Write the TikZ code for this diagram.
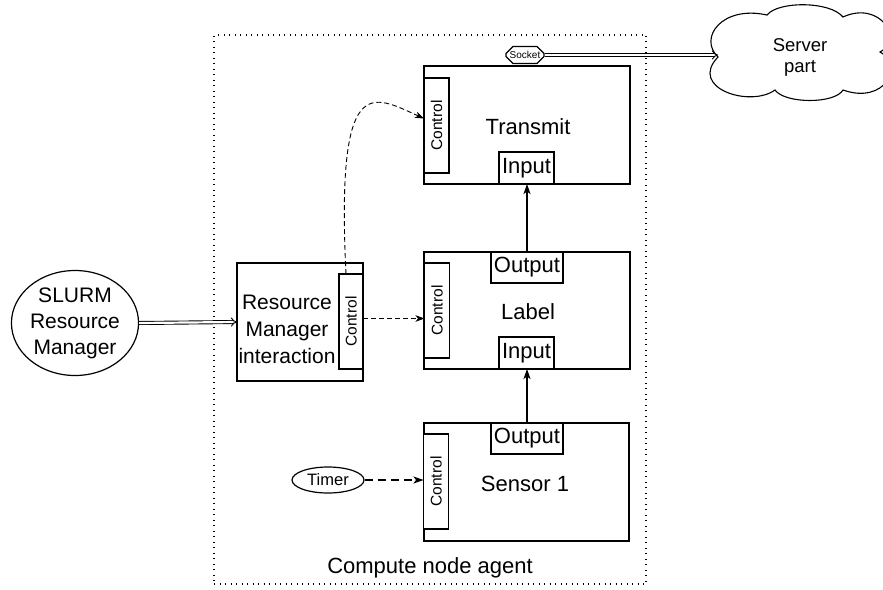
\documentclass[tikz,border=0pt]{standalone}
\usepackage{fontspec}
\setmainfont{Liberation Sans}
\usetikzlibrary{arrows.meta,shapes.geometric,shapes.misc}
\newcommand\fsz[2]{\fontsize{#1}{#2}\selectfont}
\begin{document}
\begin{tikzpicture}[x=1pt,y=-1pt,
  box/.style={draw, line width=1.6pt, inner sep=0pt, outer sep=0pt, fill=white},
  ctrl/.style={draw, line width=1.4pt, fill=white, inner sep=0pt, outer sep=0pt,
    minimum width=25pt, minimum height=95pt, font=\fsz{15.5}{18}},
  port/.style={draw, line width=1.4pt, fill=white, inner sep=0pt, outer sep=0pt,
    minimum height=31pt, font=\fsz{22}{26}},
  title/.style={font=\fsz{22}{26}, inner sep=0pt},
  conn/.style={line width=1.3pt, -{Stealth[length=10pt,width=7pt,inset=2.5pt]}},
  dconn/.style={line width=0.9pt, dash pattern=on 5pt off 3pt,
    -{Stealth[length=9pt,width=6.5pt,inset=2.5pt]}},
  tconn/.style={line width=1.4pt, dash pattern=on 8pt off 5pt,
    -{Stealth[length=10pt,width=7pt,inset=2.5pt]}},
  dbl/.style={double, double distance=2.2pt, line width=0.9pt,
    -{Implies[length=8pt,width=13pt]}},
]
\useasboundingbox (0,0) rectangle (883,589);
\clip (0,0) rectangle (883,589);
\fill[white] (0,0) rectangle (883,589);

% agent boundary
\node[draw, line width=1.2pt, dash pattern=on 1pt off 4.5pt, inner sep=0pt,
  minimum width=432pt, minimum height=549pt] (agent) at (430,309.5) {};
\node[title] (agentlbl) at (430,568) {Compute node agent};

% Transmit block
\node[box, minimum width=206pt, minimum height=118pt] (tx) at (527,125) {};
\node[ctrl] (txc) at (436.5,125.5) {\rotatebox{90}{Control}};
\node[port, minimum width=55pt, minimum height=32pt] (txin) at (526.5,168) {Input};
\node[title] (txlbl) at (528,127) {Transmit};
\node[draw, chamfered rectangle, chamfered rectangle xsep=3pt,
  chamfered rectangle ysep=4pt, line width=1.2pt, fill=white,
  minimum width=38pt, minimum height=17pt, inner sep=0pt,
  font=\fsz{10}{12}] (sock) at (525,55) {Socket};

% Label block
\node[box, minimum width=206pt, minimum height=117pt] (lb) at (527,310.5) {};
\node[ctrl] (lbc) at (437,310.5) {\rotatebox{90}{Control}};
\node[port, minimum width=72pt] (lbout) at (527,267.5) {Output};
\node[port, minimum width=55pt, minimum height=32pt] (lbin) at (526.5,353) {Input};
\node[title] (lblbl) at (528,312) {Label};

% Sensor block
\node[box, minimum width=205pt, minimum height=118pt] (sn) at (526.5,482) {};
\node[ctrl] (snc) at (436,481.5) {\rotatebox{90}{Control}};
\node[port, minimum width=72pt] (snout) at (527,438.5) {Output};
\node[title] (snlbl) at (525,484) {Sensor 1};

% Resource manager interaction block
\node[box, minimum width=126pt, minimum height=118pt] (rm) at (300,322) {};
\node[ctrl, minimum width=24pt] (rmc) at (351,321.5) {\rotatebox{90}{Control}};
\node[align=center, inner sep=0pt, font=\fsz{21}{27}] (rmlbl) at (287,329)
  {Resource\\Manager\\interaction};

% External parts
\node[draw, ellipse, line width=1.2pt, minimum width=127pt, minimum height=105pt,
  inner sep=0pt, align=center, font=\fsz{21}{26}] (slurm) at (75,323)
  {SLURM\\Resource\\Manager};
\node[draw, ellipse, line width=1.2pt, minimum width=72pt, minimum height=26pt,
  inner sep=0pt, font=\fsz{16.5}{19}] (timer) at (328,480) {Timer};

% server cloud, running off the right edge
\coordinate (srvin) at (718,57);
\draw[line width=1.1pt, fill=white] (srvin)
  .. controls (698,38) and (722,5) .. (767,15)
  .. controls (778,1) and (830,1) .. (843,17)
  .. controls (880,0) and (905,40) .. (880,52)
  .. controls (905,65) and (885,105) .. (843,90)
  .. controls (835,104) and (785,104) .. (775,90)
  .. controls (750,108) and (688,88) .. (srvin) -- cycle;
\node[align=center, inner sep=0pt, font=\fsz{18.5}{21}] (srv) at (800,57) {Server\\part};

% Connectors
\draw[conn] (snout.north) -- (snout.north |- lbin.south);
\draw[conn] (lbout.north) -- (lbout.north |- txin.south);
\draw[tconn] (timer.east) -- (timer.east -| snc.west);
\draw[dconn] ([yshift=3pt]rmc.east) -- ([yshift=3pt]rmc.east -| lbc.west);
\draw[dconn] ([xshift=-5pt]rmc.north) .. controls (336,70) and (372,95) .. ([yshift=7pt]txc.west);
\draw[dbl] (slurm.east) -- (rm.west);
\draw[dbl] (sock.east) -- (sock.east -| srvin);
\end{tikzpicture}
\end{document}
